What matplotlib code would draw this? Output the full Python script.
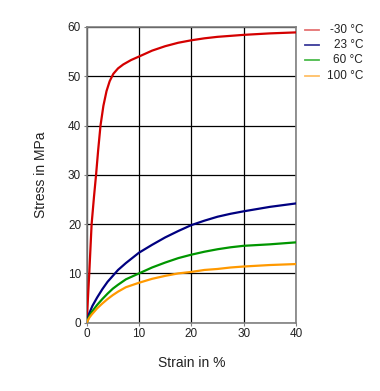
import matplotlib
matplotlib.use("Agg")
import matplotlib.pyplot as plt
from matplotlib.lines import Line2D

plt.rcParams['font.family'] = ['Liberation Sans', 'DejaVu Sans']

# Data (strain in %, stress in MPa)
strain_m30 = [0, 0.5, 0.95, 1.4, 1.8, 2.2, 2.65, 3.2, 3.8, 4.4, 5.1, 6.0, 7.0, 8.5, 10,
              12.5, 15, 17.5, 20, 22.5, 25, 27.5, 30, 35, 40]
stress_m30 = [0, 10, 20, 25.5, 30, 35, 40, 44, 47, 49, 50.5, 51.6, 52.4, 53.3, 54.0,
              55.2, 56.1, 56.8, 57.3, 57.7, 58.0, 58.2, 58.4, 58.7, 58.9]

strain_23 = [0, 0.5, 1.1, 2, 3, 4, 5, 6, 7.5, 10, 12.5, 15, 17.5, 20, 22.5, 25, 27.5,
             30, 35, 40]
stress_23 = [0, 1.9, 3.4, 5.1, 6.8, 8.3, 9.5, 10.7, 12.1, 14.2, 15.8, 17.3, 18.6, 19.8,
             20.7, 21.5, 22.1, 22.6, 23.5, 24.2]

strain_60 = [0, 0.5, 1, 2, 3, 4, 5, 6, 7.5, 10, 12.5, 15, 17.5, 20, 22.5, 25, 27.5,
             30, 35, 40]
stress_60 = [0, 1.3, 2.2, 3.6, 4.8, 5.9, 6.9, 7.7, 8.8, 10.0, 11.2, 12.2, 13.1, 13.8,
             14.4, 14.9, 15.3, 15.6, 15.9, 16.3]

strain_100 = [0, 0.5, 1, 2, 3, 4, 5, 6, 7.5, 10, 12.5, 15, 17.5, 20, 22.5, 25, 27.5,
              30, 35, 40]
stress_100 = [0, 1.0, 1.7, 2.9, 3.9, 4.8, 5.6, 6.3, 7.2, 8.1, 8.9, 9.5, 10.0, 10.3,
              10.7, 10.9, 11.2, 11.4, 11.7, 11.9]

labels = ['-30 °C', '23 °C', '60 °C', '100 °C']
colors = ['#d40000', '#000080', '#009600', '#ff9900']
legend_colors = ['#e57373', '#3a3a9a', '#4cbb4c', '#ffbf66']

xticks = [0, 10, 20, 30, 40]
yticks = [0, 10, 20, 30, 40, 50, 60]

fig = plt.figure(figsize=(3.8, 3.91), dpi=100)
ax = fig.add_axes([0.228, 0.1747, 0.551, 0.7563])

series = [(strain_m30, stress_m30), (strain_23, stress_23),
          (strain_60, stress_60), (strain_100, stress_100)]
for (x, y), c in zip(series, colors):
    ax.plot(x, y, color=c, lw=1.6, solid_capstyle='round',
            solid_joinstyle='round', zorder=3)

ax.set_xlim(0, 40)
ax.set_ylim(0, 60)
ax.set_xticks(xticks)
ax.set_yticks(yticks)
ax.grid(True, color='black', lw=0.9)
ax.set_axisbelow(True)
for s in ax.spines.values():
    s.set_color('#808080')
    s.set_linewidth(1.2)
ax.tick_params(axis='both', length=2, width=0.8, color='#808080',
               labelsize=8.5, labelcolor='#222222', pad=2)

ax.set_xlabel('Strain in %', fontsize=10, labelpad=11, color='#222222')
ax.set_ylabel('Stress in MPa', fontsize=10, labelpad=14, color='#222222')

# Legend drawn manually (right-aligned labels)
leg_y = [30, 45, 60, 76]
for ly, lab, lc in zip(leg_y, labels, legend_colors):
    yf = 1 - ly / 391
    fig.add_artist(Line2D([305 / 380, 319 / 380], [yf, yf], color=lc, lw=1.3,
                          transform=fig.transFigure))
    fig.text(363 / 380, yf, lab, ha='right', va='center', fontsize=8.5,
             color='#222222')

fig.savefig('out.png', dpi=100)
